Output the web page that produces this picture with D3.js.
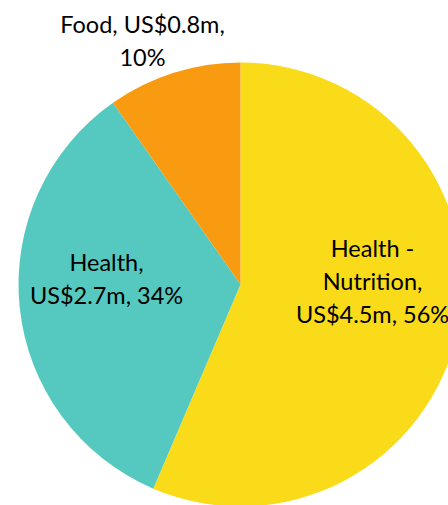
<!DOCTYPE html>
<html>
<head>
<meta charset="utf-8">
<script src="https://cdn.jsdelivr.net/npm/d3@7"></script>
<style>
  html, body { margin: 0; padding: 0; background: #fff; overflow: hidden; }
  svg { display: block; }
</style>
</head>
<body>
<svg id="chart" width="448" height="505"></svg>
<script>
// Data
const categories = ["Health - Nutrition", "Health", "Food"];
const amounts = [4.52, 2.71, 0.78];       // US$ millions (estimated)
const labelLines = [
  ["Health -", "Nutrition,", "US$4.5m, 56%"],
  ["Health,", "US$2.7m, 34%"],
  ["Food, US$0.8m,", "10%"]
];
const colors = ["#F9DB19", "#55C9C0", "#F99B10"];

// Layout (styling)
const W = 448, H = 505;
const cx = 240.5, cy = 284.5, R = 222;
const fontSize = 23.5, lineH = 33;
// label anchor: offset of first baseline relative to pie centre
const labelAnchor = [
  { dx: 132, dy: -28 },
  { dx: -134, dy: -14 },
  { dx: -98, dy: -252 }
];

const svg = d3.select("#chart");
const g = svg.append("g").attr("transform", `translate(${cx},${cy})`);

const data = categories.map((c, i) => ({ c, v: amounts[i], i }));
const pie = d3.pie().value(d => d.v).sort(null);
const arc = d3.arc().innerRadius(0).outerRadius(R);

g.selectAll("path.slice")
  .data(pie(data))
  .join("path")
  .attr("class", "slice")
  .attr("d", arc)
  .attr("fill", d => colors[d.data.i])
  .attr("stroke", "none");

const labels = g.selectAll("text.lbl")
  .data(data)
  .join("text")
  .attr("class", "lbl")
  .attr("text-anchor", "middle")
  .attr("font-family", "Lato, 'Noto Sans', sans-serif")
  .attr("font-size", fontSize)
  .attr("fill", "#000");

labels.each(function(d) {
  const a = labelAnchor[d.i];
  d3.select(this).selectAll("tspan")
    .data(labelLines[d.i])
    .join("tspan")
    .attr("x", a.dx)
    .attr("y", (t, k) => a.dy + k * lineH)
    .text(t => t);
});
</script>
</body>
</html>
